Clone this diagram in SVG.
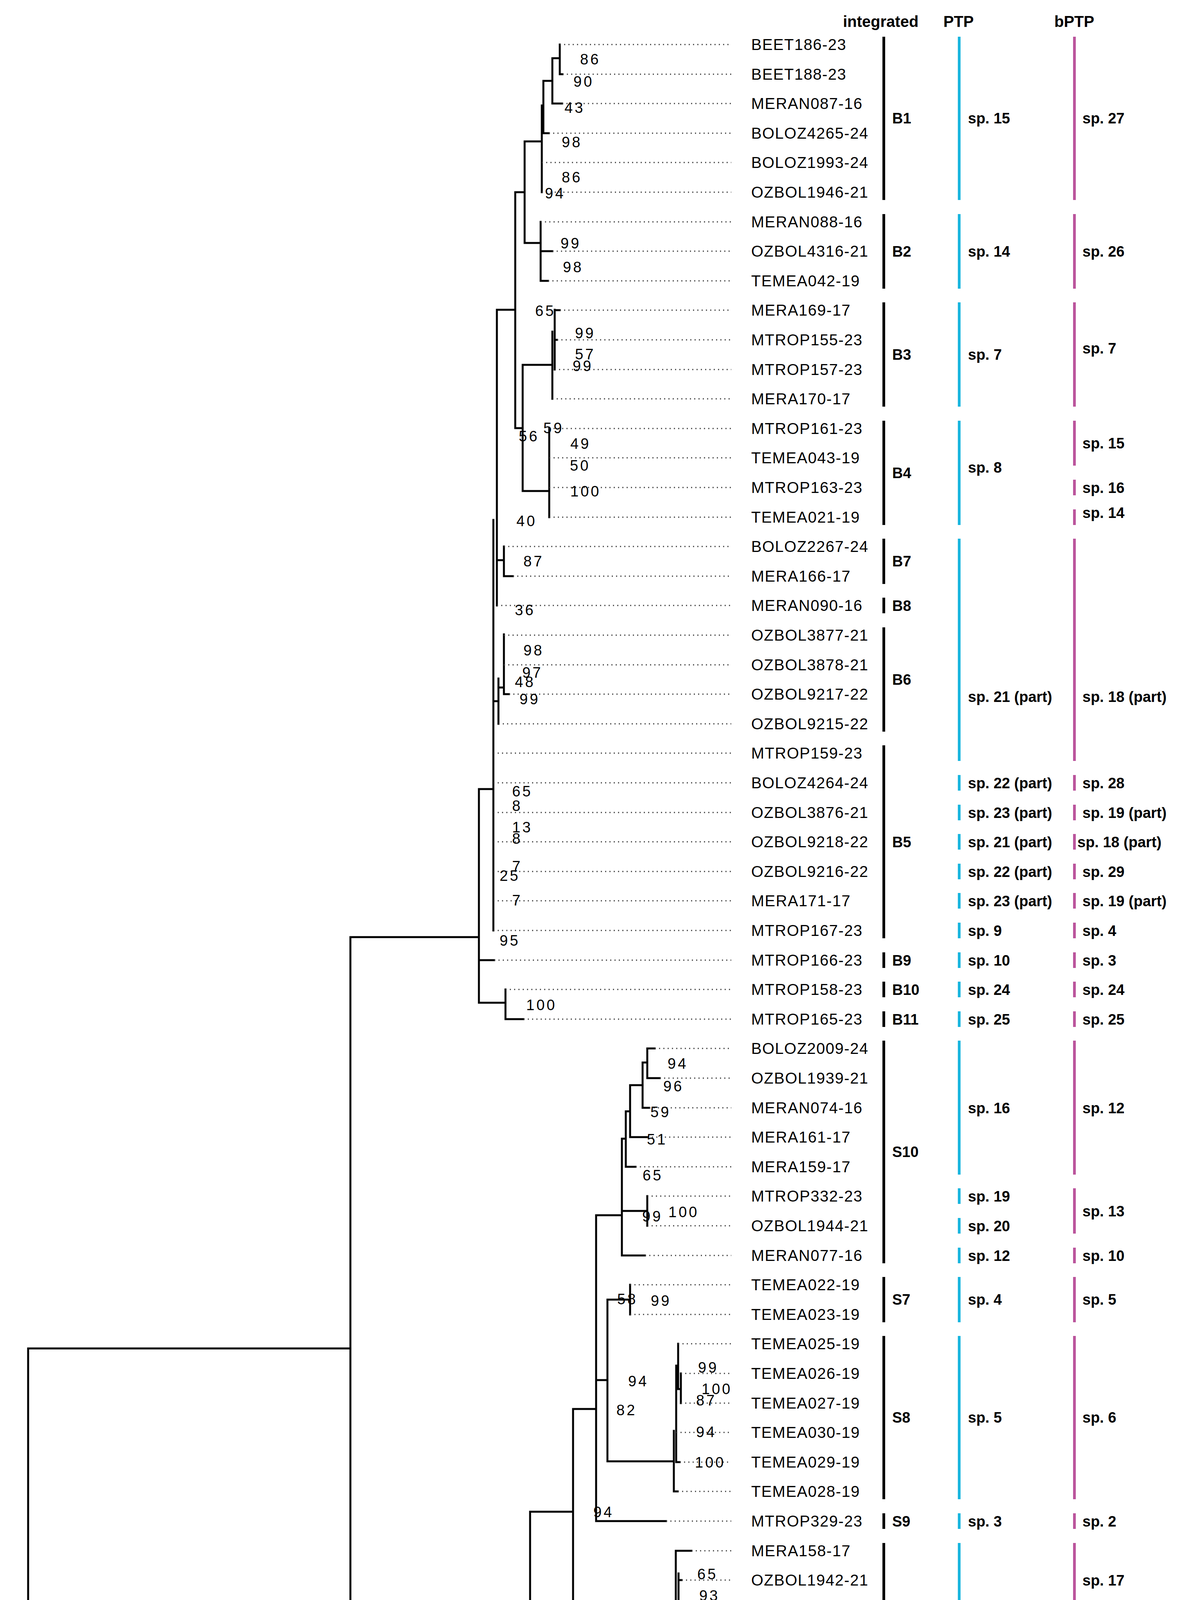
<svg xmlns="http://www.w3.org/2000/svg" width="3031" height="5087" viewBox="0 0 3031 5087">
<style>
.t{fill:none;stroke:#000;stroke-width:5;stroke-linecap:square}
.d{fill:none;stroke:#444;stroke-width:3;stroke-dasharray:3 8}
.lf{font-family:"Liberation Sans",Arial,sans-serif;font-size:40px;letter-spacing:1.5px;fill:#000}
.bs{font-family:"Liberation Sans",Arial,sans-serif;font-size:38px;letter-spacing:5px;fill:#000}
.g{font-family:"Liberation Sans",Arial,sans-serif;font-size:38px;font-weight:bold;fill:#000}
.h{font-family:"Liberation Sans",Arial,sans-serif;font-size:40px;font-weight:bold;fill:#000}
.bk{fill:#000}.cy{fill:#1ab6de}.mg{fill:#bb559c}
</style>
<text class="h" x="2158" y="69">integrated</text>
<text class="h" x="2415" y="69">PTP</text>
<text class="h" x="2699" y="69">bPTP</text>
<g id="connectors">
<path class="t" d="M39 4164H72M72 3452V4877M72 3452H897M72 4877H910M897 2399V4487M897 2399H1226M897 4487H1321
M1226 2020V2567M1226 2020H1263M1226 2458H1265M1226 2567H1294M1294 2533V2609M1294 2609H1340
M1263 1331V2382M1272 793V1550M1263 1795H1276M1276 1737V1853M1290 1624V1777M1276 1760H1290M1290 1777H1303
M1272 1434H1290M1290 1399V1475M1290 1475H1313M1272 793H1319
M1319 492V1096M1319 492H1343M1319 1096H1338M1343 362V622M1343 362H1387M1343 622H1384
M1387 270V492M1391 207V341M1391 341H1405M1391 207H1414M1414 149V265M1414 265H1439M1414 149H1433M1433 114V190M1433 190H1440
M1384 568V719M1384 643H1414M1384 719H1403
M1338 934V1257M1338 934H1414M1414 849V1021M1420 793V946M1420 794H1433M1420 870H1426
M1338 1257H1406M1406 1097V1324
M1321 4206V4764M1321 4206H1357M1321 4764H1349M1349 4726V4801
M1357 3870V4544M1357 3870H1467M1357 4544H1607
M1607 4435V4650M1607 4650H1653M1607 4435H1727M1727 4348V4520M1727 4348H1755M1727 4520H1796M1796 4464V4574M1796 4574H1849M1796 4464H1834M1834 4423V4499M1834 4499H1872
M1467 3607V4132M1467 3607H1526M1467 4132H1730
M1730 3970V4237M1730 3970H1770M1737 4028V4124M1737 4045H1745M1730 4237H1749M1749 4198V4272M1749 4272H1785
M1526 3111V3894M1526 3894H1705M1526 3533H1555M1526 3111H1592
M1555 3327V3741M1555 3327H1613M1613 3289V3365M1555 3741H1725
M1725 3663V3818M1725 3818H1735M1731 3496V3743M1731 3743H1740M1736 3440V3556M1736 3556H1743M1743 3516V3592
M1592 2915V3214M1592 3214H1651M1592 3100H1657M1657 3062V3138M1592 2915H1602M1602 2845V2987M1602 2987H1627M1602 2845H1613M1613 2778V2911M1613 2911H1658M1613 2778H1645M1645 2720V2836M1645 2836H1662M1645 2720H1657M1657 2684V2760M1657 2684H1676M1657 2760H1689"/>
<path class="d" d="M1433 114H1872M1440 190H1872M1439 265H1872M1405 341H1872M1387 416H1872M1387 492H1872M1384 568H1872M1414 643H1872M1403 719H1872M1433 794H1872M1426 870H1872M1420 946H1872M1414 1021H1872M1406 1097H1872M1406 1172H1872M1406 1248H1872M1406 1324H1872M1290 1399H1872M1313 1475H1872M1272 1550H1872M1290 1626H1872M1290 1702H1872M1303 1777H1872M1276 1853H1872M1263 1928H1872M1263 2004H1872M1263 2080H1872M1263 2155H1872M1263 2231H1872M1263 2306H1872M1263 2382H1872M1265 2458H1872M1294 2533H1872M1340 2609H1872M1676 2684H1872M1689 2760H1872M1662 2836H1872M1658 2911H1872M1627 2987H1872M1657 3062H1872M1657 3138H1872M1651 3214H1872M1613 3289H1872M1613 3365H1872M1736 3440H1872M1743 3516H1872M1743 3592H1872M1731 3667H1872M1740 3743H1872M1735 3818H1872M1705 3894H1872M1770 3970H1872M1745 4045H1872M1737 4121H1872M1749 4196H1872M1785 4272H1872M1834 4423H1872M1849 4574H1872M1653 4650H1872M1349 4726H1872M1349 4801H1872M910 4877H1872"/>
</g>
<g id="bootstrap" class="bs">
<text x="1485" y="165">86</text><text x="1468" y="222">90</text><text x="1445" y="289">43</text><text x="1438" y="377">98</text><text x="1438" y="467">86</text><text x="1395" y="508">94</text><text x="1435" y="636">99</text><text x="1441" y="697">98</text>
<text x="1370" y="809">65</text><text x="1472" y="866">99</text><text x="1472" y="920">57</text><text x="1466" y="950">99</text><text x="1328" y="1130">56</text><text x="1391" y="1109">59</text><text x="1460" y="1149">49</text><text x="1459" y="1205">50</text>
<text x="1460" y="1271">100</text><text x="1322" y="1347">40</text><text x="1340" y="1450">87</text><text x="1318" y="1575">36</text><text x="1340" y="1678">98</text><text x="1337" y="1735">97</text><text x="1318" y="1759">48</text><text x="1330" y="1803">99</text>
<text x="1311" y="2039">65</text><text x="1311" y="2076">8</text><text x="1311" y="2131">13</text><text x="1311" y="2160">8</text><text x="1311" y="2231">7</text><text x="1279" y="2255">25</text><text x="1311" y="2318">7</text><text x="1279" y="2421">95</text><text x="1347" y="2586">100</text>
<text x="1709" y="2736">94</text><text x="1698" y="2794">96</text><text x="1665" y="2860">59</text><text x="1656" y="2930">51</text><text x="1645" y="3022">65</text><text x="1644" y="3127">99</text><text x="1711" y="3116">100</text>
<text x="1580" y="3339">58</text><text x="1666" y="3343">99</text><text x="1787" y="3514">99</text><text x="1796" y="3569">100</text><text x="1782" y="3598">87</text><text x="1608" y="3549">94</text><text x="1578" y="3623">82</text><text x="1782" y="3679">94</text><text x="1779" y="3757">100</text><text x="1519" y="3884">94</text>
<text x="1785" y="4043">65</text><text x="1790" y="4098">93</text><text x="1785" y="4146">100</text><text x="1800" y="4251">98</text><text x="1411" y="4222">80</text><text x="1778" y="4450">95</text><text x="1885" y="4477">99</text><text x="1847" y="4535">99</text><text x="1373" y="4501">99</text><text x="1661" y="4558">99</text><text x="1404" y="4805">96</text>
</g>
<g id="leaves" class="lf">
<text x="1923" y="128">BEET186-23</text><text x="1923" y="204">BEET188-23</text><text x="1923" y="279">MERAN087-16</text><text x="1923" y="355">BOLOZ4265-24</text><text x="1923" y="430">BOLOZ1993-24</text><text x="1923" y="506">OZBOL1946-21</text>
<text x="1923" y="582">MERAN088-16</text><text x="1923" y="657">OZBOL4316-21</text><text x="1923" y="733">TEMEA042-19</text>
<text x="1923" y="808">MERA169-17</text><text x="1923" y="884">MTROP155-23</text><text x="1923" y="960">MTROP157-23</text><text x="1923" y="1035">MERA170-17</text>
<text x="1923" y="1111">MTROP161-23</text><text x="1923" y="1186">TEMEA043-19</text><text x="1923" y="1262">MTROP163-23</text><text x="1923" y="1338">TEMEA021-19</text>
<text x="1923" y="1413">BOLOZ2267-24</text><text x="1923" y="1489">MERA166-17</text><text x="1923" y="1564">MERAN090-16</text>
<text x="1923" y="1640">OZBOL3877-21</text><text x="1923" y="1716">OZBOL3878-21</text><text x="1923" y="1791">OZBOL9217-22</text><text x="1923" y="1867">OZBOL9215-22</text>
<text x="1923" y="1942">MTROP159-23</text><text x="1923" y="2018">BOLOZ4264-24</text><text x="1923" y="2094">OZBOL3876-21</text><text x="1923" y="2169">OZBOL9218-22</text><text x="1923" y="2245">OZBOL9216-22</text><text x="1923" y="2320">MERA171-17</text><text x="1923" y="2396">MTROP167-23</text>
<text x="1923" y="2472">MTROP166-23</text><text x="1923" y="2547">MTROP158-23</text><text x="1923" y="2623">MTROP165-23</text>
<text x="1923" y="2698">BOLOZ2009-24</text><text x="1923" y="2774">OZBOL1939-21</text><text x="1923" y="2850">MERAN074-16</text><text x="1923" y="2925">MERA161-17</text><text x="1923" y="3001">MERA159-17</text><text x="1923" y="3076">MTROP332-23</text><text x="1923" y="3152">OZBOL1944-21</text><text x="1923" y="3228">MERAN077-16</text>
<text x="1923" y="3303">TEMEA022-19</text><text x="1923" y="3379">TEMEA023-19</text>
<text x="1923" y="3454">TEMEA025-19</text><text x="1923" y="3530">TEMEA026-19</text><text x="1923" y="3606">TEMEA027-19</text><text x="1923" y="3681">TEMEA030-19</text><text x="1923" y="3757">TEMEA029-19</text><text x="1923" y="3832">TEMEA028-19</text>
<text x="1923" y="3908">MTROP329-23</text>
<text x="1923" y="3984">MERA158-17</text><text x="1923" y="4059">OZBOL1942-21</text><text x="1923" y="4135">OZBOL1943-21</text><text x="1923" y="4210">MERAN075-16</text><text x="1923" y="4286">MTROP334-23</text>
<text x="1923" y="4362">MTROP119-23</text><text x="1923" y="4437">MTROP293-23</text><text x="1923" y="4513">MTROP294-23</text><text x="1923" y="4588">MTROP335-23</text><text x="1923" y="4664">MTROP296-23</text>
<text x="1923" y="4740">TEMEA020-19</text><text x="1923" y="4815">TEMEA036-19</text><text x="1923" y="4891">MTROP173-23</text>
</g>
<g id="integrated">
<rect class="bk" x="2259" y="94" width="7" height="418"/><text class="g" x="2284" y="316">B1</text>
<rect class="bk" x="2259" y="548" width="7" height="191"/><text class="g" x="2284" y="657">B2</text>
<rect class="bk" x="2259" y="774" width="7" height="267"/><text class="g" x="2284" y="921">B3</text>
<rect class="bk" x="2259" y="1077" width="7" height="267"/><text class="g" x="2284" y="1224">B4</text>
<rect class="bk" x="2259" y="1379" width="7" height="116"/><text class="g" x="2284" y="1450">B7</text>
<rect class="bk" x="2259" y="1530" width="7" height="40"/><text class="g" x="2284" y="1564">B8</text>
<rect class="bk" x="2259" y="1606" width="7" height="267"/><text class="g" x="2284" y="1753">B6</text>
<rect class="bk" x="2259" y="1908" width="7" height="494"/><text class="g" x="2284" y="2169">B5</text>
<rect class="bk" x="2259" y="2438" width="7" height="40"/><text class="g" x="2284" y="2472">B9</text>
<rect class="bk" x="2259" y="2513" width="7" height="40"/><text class="g" x="2284" y="2547">B10</text>
<rect class="bk" x="2259" y="2589" width="7" height="40"/><text class="g" x="2284" y="2623">B11</text>
<rect class="bk" x="2259" y="2664" width="7" height="570"/><text class="g" x="2284" y="2962">S10</text>
<rect class="bk" x="2259" y="3269" width="7" height="116"/><text class="g" x="2284" y="3340">S7</text>
<rect class="bk" x="2259" y="3420" width="7" height="418"/><text class="g" x="2284" y="3642">S8</text>
<rect class="bk" x="2259" y="3874" width="7" height="40"/><text class="g" x="2284" y="3908">S9</text>
<rect class="bk" x="2259" y="3950" width="7" height="342"/><text class="g" x="2284" y="4135">S6</text>
<rect class="bk" x="2259" y="4328" width="7" height="40"/><text class="g" x="2284" y="4362">S2</text>
<rect class="bk" x="2259" y="4403" width="7" height="191"/><text class="g" x="2284" y="4513">S1</text>
<rect class="bk" x="2259" y="4630" width="7" height="40"/><text class="g" x="2284" y="4664">S3</text>
<rect class="bk" x="2259" y="4706" width="7" height="40"/><text class="g" x="2284" y="4740">S4</text>
<rect class="bk" x="2259" y="4781" width="7" height="40"/><text class="g" x="2284" y="4815">S5</text>
<rect class="bk" x="2259" y="4857" width="7" height="40"/><text class="g" x="2284" y="4891">Outgroup</text>
</g>
<g id="ptp">
<rect class="cy" x="2452" y="94" width="7" height="418"/><text class="g" x="2478" y="316">sp. 15</text>
<rect class="cy" x="2452" y="548" width="7" height="191"/><text class="g" x="2478" y="657">sp. 14</text>
<rect class="cy" x="2452" y="774" width="7" height="267"/><text class="g" x="2478" y="921">sp. 7</text>
<rect class="cy" x="2452" y="1077" width="7" height="267"/><text class="g" x="2478" y="1210">sp. 8</text>
<rect class="cy" x="2452" y="1379" width="7" height="569"/><text class="g" x="2478" y="1797">sp. 21 (part)</text>
<rect class="cy" x="2452" y="1984" width="7" height="40"/><text class="g" x="2478" y="2018">sp. 22 (part)</text>
<rect class="cy" x="2452" y="2060" width="7" height="40"/><text class="g" x="2478" y="2094">sp. 23 (part)</text>
<rect class="cy" x="2452" y="2135" width="7" height="40"/><text class="g" x="2478" y="2169">sp. 21 (part)</text>
<rect class="cy" x="2452" y="2211" width="7" height="40"/><text class="g" x="2478" y="2245">sp. 22 (part)</text>
<rect class="cy" x="2452" y="2286" width="7" height="40"/><text class="g" x="2478" y="2320">sp. 23 (part)</text>
<rect class="cy" x="2452" y="2362" width="7" height="40"/><text class="g" x="2478" y="2396">sp. 9</text>
<rect class="cy" x="2452" y="2438" width="7" height="40"/><text class="g" x="2478" y="2472">sp. 10</text>
<rect class="cy" x="2452" y="2513" width="7" height="40"/><text class="g" x="2478" y="2547">sp. 24</text>
<rect class="cy" x="2452" y="2589" width="7" height="40"/><text class="g" x="2478" y="2623">sp. 25</text>
<rect class="cy" x="2452" y="2664" width="7" height="343"/><text class="g" x="2478" y="2850">sp. 16</text>
<rect class="cy" x="2452" y="3042" width="7" height="40"/><text class="g" x="2478" y="3076">sp. 19</text>
<rect class="cy" x="2452" y="3118" width="7" height="40"/><text class="g" x="2478" y="3152">sp. 20</text>
<rect class="cy" x="2452" y="3194" width="7" height="40"/><text class="g" x="2478" y="3228">sp. 12</text>
<rect class="cy" x="2452" y="3269" width="7" height="116"/><text class="g" x="2478" y="3340">sp. 4</text>
<rect class="cy" x="2452" y="3420" width="7" height="418"/><text class="g" x="2478" y="3642">sp. 5</text>
<rect class="cy" x="2452" y="3874" width="7" height="40"/><text class="g" x="2478" y="3908">sp. 3</text>
<rect class="cy" x="2452" y="3950" width="7" height="342"/><text class="g" x="2478" y="4135" xml:space="preserve">sp.  1</text>
<rect class="cy" x="2452" y="4328" width="7" height="40"/><text class="g" x="2478" y="4362">sp. 11</text>
<rect class="cy" x="2452" y="4403" width="7" height="40"/><text class="g" x="2478" y="4437">sp. 17</text>
<rect class="cy" x="2452" y="4479" width="7" height="40"/><text class="g" x="2478" y="4513">sp. 18</text>
<rect class="cy" x="2452" y="4554" width="7" height="40"/><text class="g" x="2478" y="4588">sp. 13</text>
<rect class="cy" x="2452" y="4630" width="7" height="40"/><text class="g" x="2478" y="4664">sp. 6</text>
<rect class="cy" x="2452" y="4706" width="7" height="115"/><text class="g" x="2478" y="4777">sp. 2</text>
</g>
<g id="bptp">
<rect class="mg" x="2747" y="94" width="7" height="418"/><text class="g" x="2771" y="316">sp. 27</text>
<rect class="mg" x="2747" y="548" width="7" height="191"/><text class="g" x="2771" y="657">sp. 26</text>
<rect class="mg" x="2747" y="774" width="7" height="267"/><text class="g" x="2771" y="905">sp. 7</text>
<rect class="mg" x="2747" y="1077" width="7" height="115"/><text class="g" x="2771" y="1148">sp. 15</text>
<rect class="mg" x="2747" y="1228" width="7" height="40"/><text class="g" x="2771" y="1262">sp. 16</text>
<rect class="mg" x="2747" y="1304" width="7" height="40"/><text class="g" x="2771" y="1326">sp. 14</text>
<rect class="mg" x="2747" y="1379" width="7" height="569"/><text class="g" x="2771" y="1797">sp. 18 (part)</text>
<rect class="mg" x="2747" y="1984" width="7" height="40"/><text class="g" x="2771" y="2018">sp. 28</text>
<rect class="mg" x="2747" y="2060" width="7" height="40"/><text class="g" x="2771" y="2094">sp. 19 (part)</text>
<rect class="mg" x="2747" y="2135" width="7" height="40"/><text class="g" x="2758" y="2169">sp. 18 (part)</text>
<rect class="mg" x="2747" y="2211" width="7" height="40"/><text class="g" x="2771" y="2245">sp. 29</text>
<rect class="mg" x="2747" y="2286" width="7" height="40"/><text class="g" x="2771" y="2320">sp. 19 (part)</text>
<rect class="mg" x="2747" y="2362" width="7" height="40"/><text class="g" x="2771" y="2396">sp. 4</text>
<rect class="mg" x="2747" y="2438" width="7" height="40"/><text class="g" x="2771" y="2472">sp. 3</text>
<rect class="mg" x="2747" y="2513" width="7" height="40"/><text class="g" x="2771" y="2547">sp. 24</text>
<rect class="mg" x="2747" y="2589" width="7" height="40"/><text class="g" x="2771" y="2623">sp. 25</text>
<rect class="mg" x="2747" y="2664" width="7" height="343"/><text class="g" x="2771" y="2850">sp. 12</text>
<rect class="mg" x="2747" y="3042" width="7" height="116"/><text class="g" x="2771" y="3114">sp. 13</text>
<rect class="mg" x="2747" y="3194" width="7" height="40"/><text class="g" x="2771" y="3228">sp. 10</text>
<rect class="mg" x="2747" y="3269" width="7" height="116"/><text class="g" x="2771" y="3340">sp. 5</text>
<rect class="mg" x="2747" y="3420" width="7" height="418"/><text class="g" x="2771" y="3642">sp. 6</text>
<rect class="mg" x="2747" y="3874" width="7" height="40"/><text class="g" x="2771" y="3908">sp. 2</text>
<rect class="mg" x="2747" y="3950" width="7" height="191"/><text class="g" x="2771" y="4059">sp. 17</text>
<rect class="mg" x="2747" y="4176" width="7" height="40"/><text class="g" x="2771" y="4210">sp. 22</text>
<rect class="mg" x="2747" y="4252" width="7" height="40"/><text class="g" x="2771" y="4286">sp. 23</text>
<rect class="mg" x="2747" y="4328" width="7" height="40"/><text class="g" x="2771" y="4362">sp. 9</text>
<rect class="mg" x="2747" y="4403" width="7" height="40"/><text class="g" x="2771" y="4437">sp. 20</text>
<rect class="mg" x="2747" y="4479" width="7" height="40"/><text class="g" x="2771" y="4513">sp. 21</text>
<rect class="mg" x="2747" y="4554" width="7" height="40"/><text class="g" x="2771" y="4588">sp. 11</text>
<rect class="mg" x="2747" y="4630" width="7" height="40"/><text class="g" x="2771" y="4664">sp. 8</text>
<rect class="mg" x="2747" y="4706" width="7" height="115"/><text class="g" x="2771" y="4777">sp. 1</text>
</g>
<g id="scalebar">
<path class="t" d="M861 4986H1063" style="stroke-width:4"/>
<text x="962" y="5070" text-anchor="middle" style="font-family:'Liberation Sans',Arial,sans-serif;font-size:44px;letter-spacing:3px">0.06</text>
</g>
</svg>
